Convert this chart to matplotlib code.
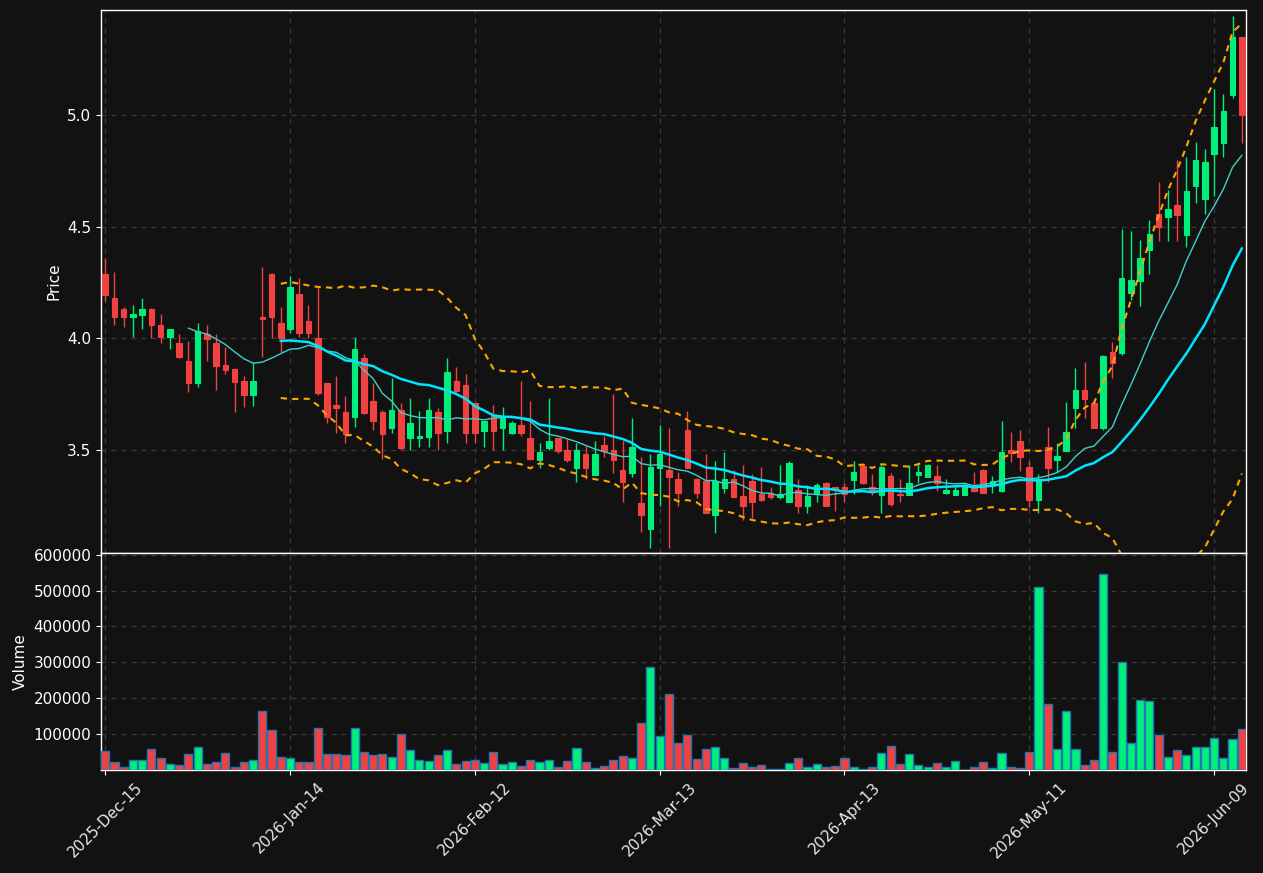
import numpy as np
import pandas as pd
import matplotlib
matplotlib.use("Agg")
import matplotlib.pyplot as plt

# ---------------- data ----------------
opens = [4.289, 4.181, 4.132, 4.097, 4.106, 4.132, 4.060, 4.007, 3.978, 3.898,
         3.798, 4.019, 3.978, 3.880, 3.862, 3.808, 3.745, 4.093, 4.289, 4.069,
         4.040, 4.199, 4.078, 4.003, 3.798, 3.700, 3.669, 3.648, 3.912, 3.718,
         3.669, 3.599, 3.678, 3.551, 3.551, 3.558, 3.669, 3.585, 3.808, 3.789,
         3.708, 3.584, 3.651, 3.599, 3.576, 3.611, 3.551, 3.454, 3.509, 3.551,
         3.498, 3.419, 3.480, 3.386, 3.521, 3.498, 3.409, 3.396, 3.259, 3.144,
         3.419, 3.409, 3.367, 3.588, 3.368, 3.359, 3.207, 3.329, 3.368, 3.292,
         3.359, 3.301, 3.307, 3.289, 3.266, 3.319, 3.247, 3.307, 3.351, 3.331,
         3.331, 3.364, 3.427, 3.331, 3.296, 3.382, 3.302, 3.296, 3.386, 3.379,
         3.382, 3.304, 3.296, 3.296, 3.331, 3.409, 3.341, 3.316, 3.498, 3.539,
         3.423, 3.274, 3.513, 3.454, 3.495, 3.688, 3.768, 3.708, 3.599, 3.937,
         3.935, 4.205, 4.257, 4.397, 4.558, 4.546, 4.599, 4.464, 4.685, 4.626,
         4.826, 4.878, 5.093, 5.350]
highs = [4.359, 4.296, 4.142, 4.150, 4.180, 4.135, 4.108, 4.042, 4.018, 3.988,
         4.067, 4.060, 4.018, 3.960, 3.865, 3.828, 3.895, 4.319, 4.292, 4.139,
         4.277, 4.269, 4.150, 4.236, 3.800, 3.831, 3.741, 4.007, 3.928, 3.798,
         3.678, 3.820, 3.708, 3.731, 3.675, 3.731, 3.686, 3.910, 3.870, 3.838,
         3.710, 3.630, 3.700, 3.690, 3.629, 3.808, 3.718, 3.529, 3.731, 3.553,
         3.546, 3.529, 3.516, 3.539, 3.561, 3.750, 3.539, 3.641, 3.468, 3.479,
         3.608, 3.599, 3.398, 3.675, 3.372, 3.480, 3.449, 3.488, 3.409, 3.431,
         3.389, 3.421, 3.331, 3.431, 3.449, 3.368, 3.341, 3.351, 3.353, 3.333,
         3.349, 3.449, 3.434, 3.391, 3.431, 3.396, 3.367, 3.431, 3.439, 3.433,
         3.431, 3.367, 3.331, 3.350, 3.401, 3.411, 3.382, 3.630, 3.581, 3.588,
         3.449, 3.391, 3.603, 3.529, 3.715, 3.868, 3.895, 3.712, 3.925, 3.985,
         4.489, 4.482, 4.441, 4.531, 4.699, 4.663, 4.801, 4.815, 4.880, 4.849,
         5.118, 5.096, 5.447, 5.352]
lows = [4.169, 4.057, 4.049, 4.007, 4.040, 4.000, 3.978, 3.951, 3.910, 3.758,
        3.780, 3.898, 3.768, 3.838, 3.668, 3.690, 3.697, 3.917, 4.000, 3.940,
        4.025, 4.007, 4.000, 3.745, 3.618, 3.576, 3.529, 3.603, 3.660, 3.588,
        3.457, 3.576, 3.498, 3.498, 3.511, 3.511, 3.498, 3.529, 3.760, 3.529,
        3.529, 3.511, 3.498, 3.498, 3.570, 3.561, 3.455, 3.419, 3.498, 3.486,
        3.446, 3.356, 3.367, 3.384, 3.468, 3.396, 3.266, 3.379, 3.129, 3.057,
        3.248, 3.057, 3.248, 3.417, 3.283, 3.215, 3.127, 3.307, 3.287, 3.184,
        3.192, 3.270, 3.277, 3.277, 3.264, 3.217, 3.217, 3.266, 3.245, 3.226,
        3.266, 3.300, 3.347, 3.296, 3.217, 3.247, 3.266, 3.294, 3.349, 3.377,
        3.316, 3.302, 3.294, 3.294, 3.311, 3.305, 3.307, 3.310, 3.446, 3.405,
        3.244, 3.217, 3.356, 3.398, 3.493, 3.599, 3.641, 3.597, 3.588, 3.820,
        3.925, 4.172, 4.146, 4.287, 4.438, 4.438, 4.438, 4.409, 4.606, 4.557,
        4.636, 4.815, 5.078, 4.878]
closes = [4.194, 4.097, 4.097, 4.109, 4.132, 4.057, 4.007, 4.042, 3.917, 3.798,
          4.030, 3.998, 3.877, 3.858, 3.805, 3.745, 3.808, 4.088, 4.097, 4.000,
          4.230, 4.025, 4.025, 3.756, 3.648, 3.688, 3.569, 3.952, 3.666, 3.626,
          3.569, 3.678, 3.509, 3.618, 3.561, 3.678, 3.576, 3.847, 3.763, 3.576,
          3.576, 3.629, 3.585, 3.641, 3.618, 3.576, 3.457, 3.489, 3.539, 3.495,
          3.454, 3.498, 3.419, 3.480, 3.495, 3.454, 3.356, 3.511, 3.207, 3.423,
          3.480, 3.379, 3.307, 3.419, 3.307, 3.217, 3.361, 3.368, 3.289, 3.247,
          3.266, 3.274, 3.286, 3.300, 3.441, 3.247, 3.292, 3.341, 3.247, 3.319,
          3.300, 3.401, 3.349, 3.316, 3.423, 3.256, 3.298, 3.349, 3.400, 3.431,
          3.349, 3.319, 3.319, 3.341, 3.316, 3.307, 3.361, 3.491, 3.484, 3.468,
          3.274, 3.368, 3.419, 3.473, 3.578, 3.768, 3.727, 3.599, 3.921, 3.888,
          4.269, 4.262, 4.362, 4.468, 4.497, 4.581, 4.554, 4.661, 4.801, 4.790,
          4.950, 5.020, 5.350, 5.003]
volumes = [52800, 22200, 8300, 27800, 27800, 58300, 33300, 16700, 13900, 44400,
           63900, 16700, 22200, 47200, 10000, 22200, 27800, 163900, 111100, 36100,
           33300, 22200, 22200, 116700, 44400, 44400, 41700, 116700, 50000, 41700,
           44400, 36100, 100000, 55600, 27800, 25000, 41700, 55600, 16700, 25000,
           27800, 19400, 50000, 16700, 22200, 11100, 27800, 22200, 27800, 8300,
           25000, 61100, 22200, 5600, 11100, 27800, 38900, 33300, 130600, 286100,
           94400, 211100, 75000, 97200, 30600, 58300, 63900, 33300, 5600, 19400,
           8300, 13900, 2800, 2800, 19400, 33300, 8300, 16700, 8300, 11100,
           33300, 8300, 2800, 8300, 47200, 66700, 16700, 44400, 13900, 8300,
           19400, 8300, 25000, 1500, 8300, 22200, 5600, 47200, 8300, 5600,
           50000, 511100, 183300, 58300, 163900, 58300, 13900, 27800, 547200, 50000,
           300000, 75000, 194400, 191700, 97200, 36100, 55600, 41700, 63900, 63900,
           88900, 33300, 86100, 113900]
tick_labels = ["2025-Dec-15", "2026-Jan-14", "2026-Feb-12", "2026-Mar-13",
               "2026-Apr-13", "2026-May-11", "2026-Jun-09"]

# ---------------- derived ----------------
df = pd.DataFrame({"Open": opens, "High": highs, "Low": lows,
                   "Close": closes, "Volume": volumes})
n = len(df)
x = np.arange(n)
ma10 = df["Close"].rolling(10).mean()
ma20 = df["Close"].rolling(20).mean()
sd20 = df["Close"].rolling(20).std(ddof=0)
bb_up = ma20 + 2 * sd20
bb_lo = ma20 - 2 * sd20

UP = "#00ee7a"
DOWN = "#f24141"
BG = "#121212"
GRID = "#3a3a3a"
FG = "white"

up = df["Close"] >= df["Open"]
colors = np.where(up, UP, DOWN)

fig = plt.figure(figsize=(12.63, 8.73), dpi=100, facecolor=BG)
ax = fig.add_axes([0.0800, 0.3669, 0.9065, 0.6216])
axv = fig.add_axes([0.0800, 0.1180, 0.9065, 0.2480], sharex=ax)

for a in (ax, axv):
    a.set_facecolor(BG)
    for s in a.spines.values():
        s.set_color(FG)
        s.set_linewidth(1.0)
    a.tick_params(colors=FG, labelsize=11)
    a.grid(True, linestyle=(0, (4, 4)), color=GRID, linewidth=0.9)
    a.set_axisbelow(True)

# candles
ax.vlines(x, df["Low"], df["High"], colors=colors, linewidth=1.0, zorder=2)
body_bottom = np.minimum(df["Open"], df["Close"])
body_h = np.abs(df["Close"] - df["Open"])
ax.bar(x, body_h, bottom=body_bottom, width=0.6, color=colors,
       edgecolor=colors, linewidth=0.8, zorder=3)

# overlays
ax.plot(x, ma10, color="#3fd0c8", linewidth=1.0, zorder=4)
ax.plot(x, ma20, color="#00e5ff", linewidth=1.8, zorder=4)
ax.plot(x, bb_up, color="#ffa500", linewidth=1.5, linestyle=(0, (3, 2.5)), zorder=4)
ax.plot(x, bb_lo, color="#ffa500", linewidth=1.5, linestyle=(0, (3, 2.5)), zorder=4)

ax.set_ylim(3.037, 5.473)
ax.set_yticks([3.5, 4.0, 4.5, 5.0])
ax.set_ylabel("Price", color=FG, fontsize=11)
ax.tick_params(axis="x", labelbottom=False, length=0)

# volume
axv.bar(x, df["Volume"], width=0.88, color=colors, edgecolor="#1f77b4",
        linewidth=1.0, zorder=3)
axv.set_ylim(800, 603000)
axv.set_yticks([100000, 200000, 300000, 400000, 500000, 600000])
axv.set_yticklabels([str(v) for v in [100000, 200000, 300000, 400000, 500000, 600000]])
axv.set_ylabel("Volume", color=FG, fontsize=11)

ticks = list(range(0, n, 20))
axv.set_xticks(ticks)
axv.set_xticklabels(tick_labels, rotation=45, ha="center",
                    fontsize=11, color="#e8e8e8")
axv.set_xlim(-0.45, n - 0.55)

fig.savefig("out.png", dpi=100, facecolor=BG)
